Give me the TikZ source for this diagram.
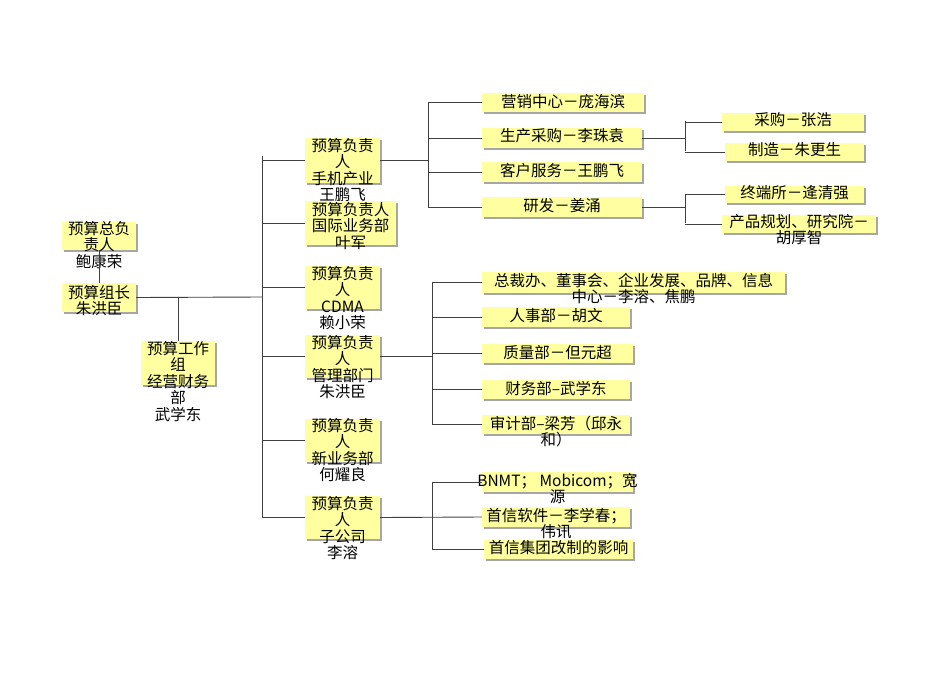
\documentclass[tikz,border=0pt]{standalone}
\usepackage{fontspec}
\setmainfont{Noto Sans CJK SC}[BoldFont={Noto Sans CJK SC Bold}]
\begin{document}
\begin{tikzpicture}[x=1pt,y=-1pt,
  boxst/.style={draw=none,fill={rgb,255:red,255;green,255;blue,160},inner sep=0pt},
  txt/.style={anchor=north,inner sep=0pt,align=center,font=\fontsize{15.5}{16.5}\selectfont},
  ln/.style={draw=black!75,line width=0.9pt}]
\useasboundingbox (0,0) rectangle (950,672);
\newcommand{\bx}[7]{%
  \fill[black!35] ({#2+2},{#3+2}) rectangle ({#4+2},{#5+2});
  \node[boxst,minimum width={#4-#2},minimum height={#5-#3}] (#1) at ({(#2+#4)/2},{(#3+#5)/2}) {};
  \node[txt] (#1t) at ({(#2+#4)/2},{#7-9}) {#6};}
\bx{top}{62}{222}{136}{250}{预算总负\\责人\\鲍康荣}{230}
\bx{lead}{62}{283}{136}{312}{预算组长\\朱洪臣}{294}
\bx{work}{141}{341}{215}{385}{预算工作\\组\\经营财务\\部\\武学东}{350}
\bx{pa}{305}{138}{380}{183}{预算负责\\人\\手机产业\\王鹏飞}{147}
\bx{pb}{305}{201}{396}{245}{预算负责人\\国际业务部\\叶军}{211}
\bx{pc}{305}{266}{380}{309}{预算负责\\人\\CDMA\\赖小荣}{275}
\bx{pd}{305}{335}{380}{378}{预算负责\\人\\管理部门\\朱洪臣}{344}
\bx{pe}{305}{419}{380}{462}{预算负责\\人\\新业务部\\何耀良}{427}
\bx{pf}{305}{496}{380}{539}{预算负责\\人\\子公司\\李溶}{505}
\bx{a1}{482}{93}{644}{112}{营销中心－庞海滨}{103}
\bx{a2}{482}{128}{642}{148}{生产采购－李珠袁}{137}
\bx{a3}{482}{162}{642}{182}{客户服务－王鹏飞}{172}
\bx{a4}{482}{197}{642}{217}{研发－姜涌}{207}
\bx{b1}{722}{113}{864}{131}{采购－张浩}{121}
\bx{b2}{725}{143}{864}{161}{制造－朱更生}{151}
\bx{b3}{725}{186}{864}{203}{终端所－逄清强}{194}
\bx{b4}{722}{215}{876}{233}{产品规划、研究院－\\胡厚智}{223}
\bx{d1}{482}{272}{785}{293}{总裁办、董事会、企业发展、品牌、信息\\中心－李溶、焦鹏}{282}
\bx{d2}{482}{307}{630}{327}{人事部－胡文}{317}
\bx{d3}{482}{344}{633}{363}{质量部－但元超}{354}
\bx{d4}{482}{380}{630}{399}{财务部–武学东}{390}
\bx{d5}{482}{415}{630}{434}{审计部–梁芳（邱永\\和）}{425}
\bx{f1}{482}{472}{633}{492}{BNMT； Mobicom；宽\\源}{482}
\bx{f2}{482}{507}{630}{527}{首信软件－李学春；\\伟讯}{517}
\bx{f3}{484}{540}{633}{559}{首信集团改制的影响}{549}
% connectors
\draw[ln] (top.south) -- (lead.north);
\coordinate (sp) at (262,297);
\draw[ln] (lead.east) -- (sp);
\draw[ln] (178,297) -- (work.north -| 178,0);
\draw[ln] (262,156) -- (262,517);
\foreach \p in {pa,pb,pc,pd,pe,pf} \draw[ln] (262,0 |- \p.west) -- (\p.west);
\draw[ln] (pa.east) -- (428,0 |- pa.east);
\draw[ln] (428,103) -- (428,207);
\foreach \p in {a1,a2,a3,a4} \draw[ln] (428,0 |- \p.west) -- (\p.west);
\draw[ln] (a2.east) -- (685,0 |- a2.east);
\draw[ln] (685,121) -- (685,151);
\foreach \p in {b1,b2} \draw[ln] (685,0 |- \p.west) -- (\p.west);
\draw[ln] (a4.east) -- (685,0 |- a4.east);
\draw[ln] (685,194) -- (685,223);
\foreach \p in {b3,b4} \draw[ln] (685,0 |- \p.west) -- (\p.west);
\draw[ln] (pd.east) -- (432,0 |- pd.east);
\draw[ln] (432,282) -- (432,425);
\foreach \p in {d1,d2,d3,d4,d5} \draw[ln] (432,0 |- \p.west) -- (\p.west);
\draw[ln] (pf.east) -- (f2.west);
\draw[ln] (432,482) -- (432,549);
\foreach \p in {f1,f3} \draw[ln] (432,0 |- \p.west) -- (\p.west);
\end{tikzpicture}
\end{document}
